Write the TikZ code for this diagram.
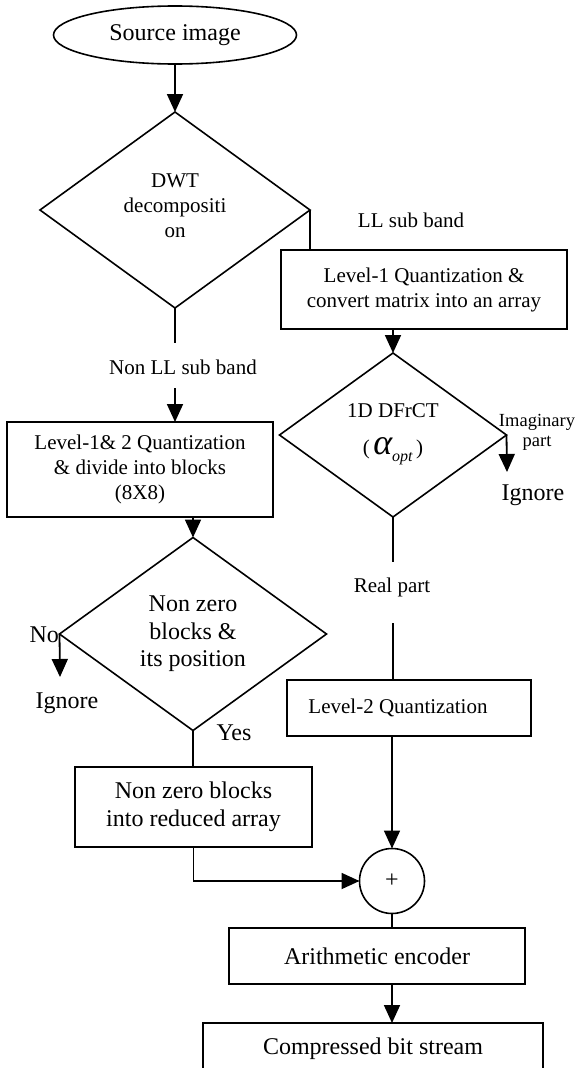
\documentclass[tikz,border=0pt]{standalone}
\usepackage{fontspec}
\setmainfont{Liberation Serif}
\usetikzlibrary{shapes.geometric,arrows.meta}
\newcommand{\fsA}{\fontsize{24}{27.5}\selectfont}
\newcommand{\fsB}{\fontsize{21}{25}\selectfont}
\newcommand{\fsC}{\fontsize{18.5}{20}\selectfont}
\begin{document}
\begin{tikzpicture}[x=1pt,y=-1pt,
 every node/.style={inner sep=0pt, outer sep=0pt, font=\fsB},
 ln/.style={line width=1.8pt},
 arr/.style={ln,-{Triangle[width=16pt,length=18pt]}},
 box/.style={draw,line width=1.6pt,align=center},
 dia/.style={draw,diamond,line width=1.6pt,align=center,aspect=1},
 lbl/.style={align=center}]
\useasboundingbox (0,0) rectangle (577,1068);

% nodes
\node[draw,ellipse,line width=1.6pt,minimum width=243pt,minimum height=58pt,font=\fsA] (src) at (175,35) {Source image};
\node[dia,minimum width=270pt,minimum height=196pt] (dwt) at (175,210) {};
\node[lbl] (dwtt) at (175,206) {DWT\\decompositi\\on};
\node[lbl] (ll) at (411,220) {LL sub band};
\node[box,minimum width=286pt,minimum height=79pt] (b1) at (424,289.5) {Level-1 Quantization \&\\convert matrix into an array};
\node[dia,minimum width=227pt,minimum height=164pt] (dfr) at (393,435) {};
\node[lbl] (dfrt) at (393,434) {1D DFrCT\\[12pt](\,{\fontsize{36}{36}\selectfont\itshape α}\raisebox{-7pt}{\fontsize{16}{16}\selectfont\itshape opt}\,)};
\node[lbl] (nll) at (183,367) {Non LL sub band};
\node[box,minimum width=266pt,minimum height=95pt] (b2) at (140,469.5) {Level-1\& 2 Quantization\\\& divide into blocks\\(8X8)};
\node[dia,minimum width=267pt,minimum height=193pt,font=\fsA] (nz) at (193,634) {Non zero\\blocks \&\\its position};
\node[anchor=east,font=\fsA] (no) at (59,635) {No};
\node[font=\fsA] (ig1) at (67,703) {Ignore};
\node[font=\fsA] (yes) at (234,733) {Yes};
\node[box,minimum width=237pt,minimum height=80pt,font=\fsA] (b3) at (193.5,807) {Non zero blocks\\into reduced array};
\node[font=\fsC,align=center] (imag) at (537,432) {Imaginary\\part};
\node[font=\fsA] (ig2) at (533,495) {Ignore};
\node[lbl] (real) at (392,587) {Real part};
\node[box,minimum width=244pt,minimum height=56pt] (b4) at (409,708) {Level-2 Quantization\hspace*{22pt}};
\node[draw,circle,line width=1.6pt,minimum size=65pt,font=\fsA] (sum) at (392,881) {+};
\node[box,minimum width=296pt,minimum height=56pt,font=\fsA] (b5) at (377,956) {Arithmetic encoder};
\node[box,minimum width=340pt,minimum height=52pt,font=\fsA] (b6) at (373,1049) {Compressed bit stream};

% free ends
\coordinate (nllA) at (175,343);
\coordinate (nllB) at (175,388);
\coordinate (noEnd) at (60,677);
\coordinate (imEnd) at (507,472);
\coordinate (realA) at (393,562);
\coordinate (realB) at (393,623);

% connectors
\draw[arr] (src.south) -- (dwt.north);
\draw[ln] (dwt.east) -- (dwt.east |- b1.north);
\draw[ln] (dwt.south) -- (nllA);
\draw[arr] (nllB) -- (nllB |- b2.north);
\draw[arr] (nz.north |- b2.south) -- (nz.north);
\draw[arr] (nz.west) -- (noEnd);
\draw[ln] (nz.south) -- (nz.south |- b3.north);
\draw[arr] (b3.south) |- (sum.west);
\draw[arr] (dfr.north |- b1.south) -- (dfr.north);
\draw[arr] (dfr.east) -- (imEnd);
\draw[ln] (dfr.south) -- (realA);
\draw[ln] (realB) -- (realB |- b4.north);
\draw[arr] (sum.north |- b4.south) -- (sum.north);
\draw[ln] (sum.south) -- (sum.south |- b5.north);
\draw[arr] (sum.south |- b5.south) -- (sum.south |- b6.north);
\end{tikzpicture}
\end{document}
